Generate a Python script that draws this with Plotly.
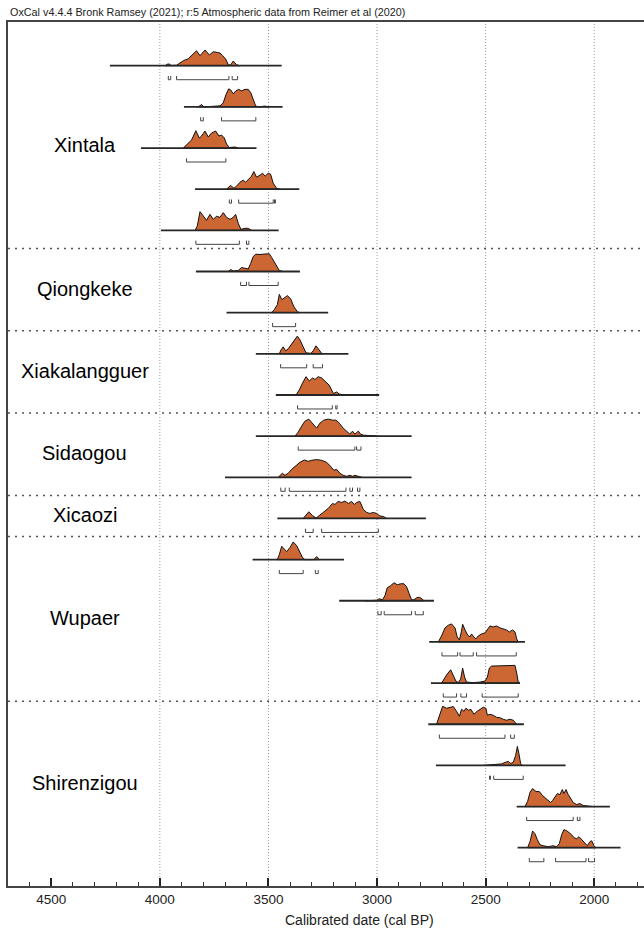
import plotly.graph_objects as go

# ---------------- data ----------------
TITLE = "OxCal v4.4.4 Bronk Ramsey (2021); r:5 Atmospheric data from Reimer et al (2020)"
AXIS_TITLE = "Calibrated date (cal BP)"

GROUP_NAMES = ["Xintala", "Qiongkeke", "Xiakalangguer", "Sidaogou", "Xicaozi", "Wupaer", "Shirenzigou"]
GROUP_SIZES = [5, 2, 2, 2, 1, 4, 4]

TICK_YEARS = [4500, 4000, 3500, 3000, 2500, 2000]
GRID_YEARS = [4000, 3500, 3000, 2500, 2000]

# full plotted range of each distribution (cal BP, older -> younger)
BASE_START = [4230, 3889, 4087, 3838, 3995, 3834, 3693, 3558, 3466, 3558,
              3700, 3459, 3573, 3174, 2760, 2752, 2764, 2729, 2357, 2353]
BASE_END = [3439, 3435, 3555, 3358, 3453, 3355, 3225, 3132, 2990, 2841,
            2841, 2775, 3152, 2738, 2319, 2342, 2324, 2132, 1928, 1879]

# probability curves: sample years and relative density
CURVE_YEARS = [
    [3976, 3966, 3957, 3947, 3923, 3892, 3869, 3846, 3831, 3815, 3792, 3772, 3754, 3736, 3723, 3711, 3697, 3685, 3674, 3662, 3647, 3631],
    [3823, 3808, 3797, 3723, 3708, 3696, 3683, 3674, 3662, 3650, 3637, 3624, 3608, 3593, 3581, 3570, 3559, 3547, 3516, 3500],
    [3892, 3877, 3854, 3834, 3818, 3808, 3792, 3777, 3762, 3743, 3728, 3716, 3703, 3693, 3680, 3654, 3639],
    [3693, 3674, 3659, 3647, 3631, 3616, 3605, 3593, 3578, 3567, 3555, 3539, 3527, 3515, 3501, 3490, 3478, 3463, 3447],
    [3838, 3828, 3815, 3797, 3785, 3769, 3754, 3739, 3723, 3708, 3693, 3677, 3662, 3651, 3639, 3627, 3608, 3593, 3578],
    [3685, 3674, 3662, 3639, 3624, 3608, 3593, 3582, 3570, 3558, 3539, 3516, 3496, 3485, 3470, 3459, 3450, 3432],
    [3485, 3473, 3459, 3450, 3438, 3424, 3413, 3398, 3383, 3367, 3355],
    [3450, 3442, 3432, 3421, 3409, 3393, 3378, 3367, 3355, 3340, 3327, 3304, 3294, 3281, 3271, 3255, 3248],
    [3373, 3358, 3343, 3327, 3312, 3297, 3286, 3271, 3255, 3240, 3221, 3209, 3201, 3186, 3174, 3155],
    [3378, 3363, 3347, 3332, 3314, 3294, 3278, 3263, 3245, 3225, 3205, 3189, 3174, 3156, 3140, 3125, 3113, 3102, 3086, 3076, 3063, 3033, 3002],
    [3455, 3444, 3436, 3424, 3409, 3393, 3373, 3355, 3335, 3317, 3301, 3278, 3255, 3232, 3214, 3199, 3186, 3171, 3156, 3140, 3125, 3113, 3102, 3086, 3071],
    [3340, 3327, 3314, 3298, 3281, 3271, 3248, 3225, 3205, 3194, 3179, 3163, 3148, 3132, 3117, 3105, 3094, 3079, 3063, 3048, 3033, 3017, 3002, 2987, 2971, 2956],
    [3459, 3450, 3439, 3427, 3416, 3401, 3386, 3370, 3355, 3343, 3332, 3291, 3278, 3266],
    [3056, 3002, 2990, 2975, 2964, 2953, 2938, 2922, 2907, 2892, 2876, 2864, 2852, 2841, 2830, 2818, 2806, 2793, 2784],
    [2718, 2703, 2687, 2672, 2657, 2641, 2631, 2621, 2612, 2606, 2595, 2583, 2572, 2565, 2554, 2545, 2534, 2519, 2503, 2492, 2480, 2465, 2450, 2434, 2419, 2404, 2391, 2376, 2365, 2357, 2350],
    [2703, 2692, 2677, 2661, 2649, 2637, 2626, 2615, 2606, 2597, 2588, 2557, 2526, 2503, 2492, 2483, 2473, 2450, 2419, 2388, 2365, 2357, 2350, 2342],
    [2726, 2713, 2698, 2680, 2664, 2649, 2634, 2621, 2611, 2600, 2591, 2578, 2568, 2554, 2539, 2526, 2511, 2499, 2492, 2480, 2465, 2450, 2434, 2419, 2404, 2388, 2373, 2365, 2357],
    [2511, 2480, 2450, 2427, 2411, 2396, 2385, 2373, 2362, 2354, 2347, 2339, 2330],
    [2319, 2307, 2296, 2284, 2268, 2253, 2238, 2227, 2212, 2201, 2192, 2181, 2170, 2158, 2147, 2140, 2130, 2120, 2109, 2097, 2081, 2066, 2051, 2035, 2004],
    [2307, 2296, 2284, 2273, 2262, 2250, 2235, 2212, 2189, 2173, 2161, 2150, 2140, 2127, 2115, 2104, 2093, 2081, 2070, 2058, 2043, 2032, 2020, 2012, 2001, 1992],
]
CURVE_DENSITY = [
    [0, 1.5, 1.7, 0.3, 0.5, 5, 7, 11.7, 15, 10, 15.7, 10.7, 14, 13.3, 12.7, 10, 6.7, 1, 0.7, 4.7, 1, 0],
    [0, 2.3, 0, 1, 4, 12, 18, 17, 13, 16, 17.5, 16, 17.5, 17.5, 14, 7, 1, 0, 0.8, 0],
    [0, 3, 8, 17.3, 10, 12, 17, 11, 15, 17, 12, 13, 10, 4, 0.5, 1, 0],
    [0, 3.7, 1, 3, 7, 9, 7, 10, 13, 17.7, 12, 14, 16, 13, 16, 15, 6, 1, 0],
    [0, 4, 18.7, 13, 10, 16, 11, 14, 13, 17.7, 13, 11, 13, 16, 7, 1, 2, 2, 0],
    [0, 2, 0.5, 1, 4, 3.5, 2.5, 8, 15, 17.3, 17, 17.5, 17.7, 14, 9, 5, 1, 0],
    [0, 3, 8, 18.3, 13, 15, 17, 14, 6, 1, 0],
    [0, 4, 7, 3, 5, 10, 15, 17.7, 14, 7, 1, 0.5, 3, 8, 5, 0.5, 0],
    [0, 5, 12, 18.3, 14, 17, 15.5, 18.3, 17, 14, 10, 5, 1.5, 3, 1, 0],
    [0, 4, 10, 15, 17, 12, 8, 13, 16, 17, 16, 16, 13, 8, 5, 2, 5, 2, 5, 2, 1, 0.5, 0],
    [0, 3, 4, 2, 4, 8, 12, 15, 17.3, 16, 17, 17.7, 17, 15, 11, 7, 8, 4, 2, 1, 2, 1, 2, 1, 0],
    [0, 4, 6.7, 3, 0.5, 2, 6, 10, 15, 14, 17, 16, 17.3, 15, 17, 14, 16, 17, 9, 6, 5, 6, 5, 2.5, 2, 0],
    [0, 5, 13.3, 10, 8, 12, 17.7, 14, 8, 2, 0, 0, 3, 0],
    [0, 0.5, 2, 1, 5, 13, 15, 18, 16, 17, 17, 14, 7, 1, 1, 3, 3.5, 2, 0],
    [0, 6, 14, 16.7, 18, 14, 5, 2, 10, 17.7, 12, 7, 5, 8, 5, 3, 6, 8, 9, 13, 16, 15, 16, 14, 13, 12, 10, 12, 10, 3, 0],
    [0, 4, 9, 13.3, 8, 2, 0.5, 4, 15, 6, 1, 0.5, 1, 2, 6, 15, 17, 17.3, 17.3, 17.7, 17.7, 10, 1, 0],
    [0, 8, 18, 16, 17, 17.7, 13, 8, 15, 13, 16, 14, 15, 10, 13, 15, 17, 16, 9, 10, 9, 7, 6.5, 5, 4, 5, 4, 2, 0],
    [0, 0.5, 1, 1.5, 3, 4, 2, 3, 10, 19, 12, 2, 0],
    [0, 5, 14, 18, 15, 15, 11, 9, 6, 4, 6, 9, 13, 12, 17, 13, 17, 12, 8, 4, 2, 3, 1, 0.5, 0],
    [0, 6, 16.7, 14, 8, 3, 2, 1, 2, 1, 4, 13, 18, 17, 15, 13, 10, 9, 11, 8, 4, 2, 6, 7, 2, 0],
]

# 95.4% ranges (from, to) cal BP
RANGES = [
    [(3961, 3950), (3923, 3682), (3667, 3642)],
    [(3812, 3800), (3716, 3558)],
    [(3877, 3696)],
    [(3680, 3670), (3637, 3478), (3472, 3468)],
    [(3834, 3634), (3601, 3590)],
    [(3628, 3601), (3590, 3455)],
    [(3481, 3375)],
    [(3444, 3324), (3294, 3251)],
    [(3366, 3206), (3190, 3184)],
    [(3363, 3102), (3094, 3074)],
    [(3443, 3423), (3404, 3143), (3125, 3113), (3090, 3079)],
    [(3329, 3294), (3255, 2994)],
    [(3450, 3340), (3284, 3271)],
    [(2996, 2981), (2967, 2841), (2824, 2787)],
    [(2701, 2629), (2618, 2557), (2542, 2359)],
    [(2695, 2634), (2614, 2588), (2516, 2350)],
    [(2713, 2411), (2385, 2368)],
    [(2482, 2478), (2463, 2327)],
    [(2311, 2097), (2078, 2066)],
    [(2299, 2232), (2178, 2038), (2026, 1999)],
]

# ---------------- styling / geometry ----------------
ROW_PX = 41.16            # pixels per row
DENS_SCALE = 1.0 / ROW_PX  # one density unit = one pixel
FILL = "#CC6633"
FONT = "Arial, Liberation Sans, sans-serif"
X_RANGE = [4699, 1771]
Y_RANGE = [19.93, -1.062]
PLOT_H = 864

fig = go.Figure()

n_rows = len(BASE_START)

# curves
for i in range(n_rows):
    xs = CURVE_YEARS[i]
    ys = [i - d * DENS_SCALE for d in CURVE_DENSITY[i]]
    fig.add_trace(go.Scatter(
        x=xs + [xs[0]], y=ys + [ys[0]], mode="lines", fill="toself",
        fillcolor=FILL, line=dict(color="#111111", width=1),
        hoverinfo="skip", showlegend=False))

# baselines
bx, by = [], []
for i in range(n_rows):
    bx += [BASE_START[i], BASE_END[i], None]
    by += [i, i, None]
fig.add_trace(go.Scatter(x=bx, y=by, mode="lines",
                         line=dict(color="#262626", width=1.8),
                         hoverinfo="skip", showlegend=False))

# range brackets
rx, ry = [], []
low = 14.0 / ROW_PX
high = 10.3 / ROW_PX
for i in range(n_rows):
    for a, b in RANGES[i]:
        rx += [a, a, b, b, None]
        ry += [i + high, i + low, i + low, i + high, None]
fig.add_trace(go.Scatter(x=rx, y=ry, mode="lines",
                         line=dict(color="#444444", width=1),
                         hoverinfo="skip", showlegend=False))

shapes = []
for g in GRID_YEARS:
    shapes.append(dict(type="line", xref="x", yref="paper", x0=g, x1=g, y0=0, y1=1,
                       line=dict(color="#9a9a9a", width=1, dash="1px,2px"), layer="below"))

annotations = []
start = 0
for k, (name, size) in enumerate(zip(GROUP_NAMES, GROUP_SIZES)):
    centre = start + (size - 1) / 2.0 - 0.08
    annotations.append(dict(text=name, x=4345, y=centre, xref="x", yref="y",
                            showarrow=False, xanchor="center", yanchor="middle",
                            font=dict(family=FONT, size=20, color="#000")))
    end = start + size - 1
    if k < len(GROUP_NAMES) - 1:
        shapes.append(dict(type="line", xref="paper", yref="y", x0=0, x1=1,
                           y0=end + 0.44, y1=end + 0.44,
                           line=dict(color="#555555", width=1.5, dash="2px,5px")))
    start += size

annotations.append(dict(text=TITLE, x=0, y=1 + 10 / PLOT_H, xref="paper", yref="paper",
                        showarrow=False, xanchor="left", yanchor="middle",
                        font=dict(family=FONT, size=10.8, color="#222")))
annotations.append(dict(text=AXIS_TITLE, x=0.552, y=-34 / PLOT_H, xref="paper", yref="paper",
                        showarrow=False, xanchor="center", yanchor="middle",
                        font=dict(family=FONT, size=14, color="#222")))

fig.update_layout(
    width=644, height=928,
    margin=dict(l=8, r=0, t=22, b=42),
    paper_bgcolor="white", plot_bgcolor="white",
    showlegend=False, hovermode=False,
    shapes=shapes, annotations=annotations,
    xaxis=dict(range=X_RANGE, tickmode="array", tickvals=TICK_YEARS,
               ticktext=[str(t) for t in TICK_YEARS],
               ticks="inside", ticklen=8, tickwidth=1.5, tickcolor="#222",
               minor=dict(ticks="inside", ticklen=4, tickwidth=1, tickcolor="#333",
                          dtick=100, tick0=0, showgrid=False),
               showgrid=False, zeroline=False,
               showline=True, mirror=True, linecolor="#444", linewidth=1.5,
               tickfont=dict(family=FONT, size=13.5, color="#222")),
    yaxis=dict(range=Y_RANGE, showticklabels=False, ticks="", showgrid=False,
               zeroline=False, showline=True, linecolor="#444", linewidth=1.5),
)

fig.write_html(
    "out.html",
    config={"displayModeBar": False},
    post_script="document.body.style.margin='0';document.body.style.overflow='hidden';",
)
